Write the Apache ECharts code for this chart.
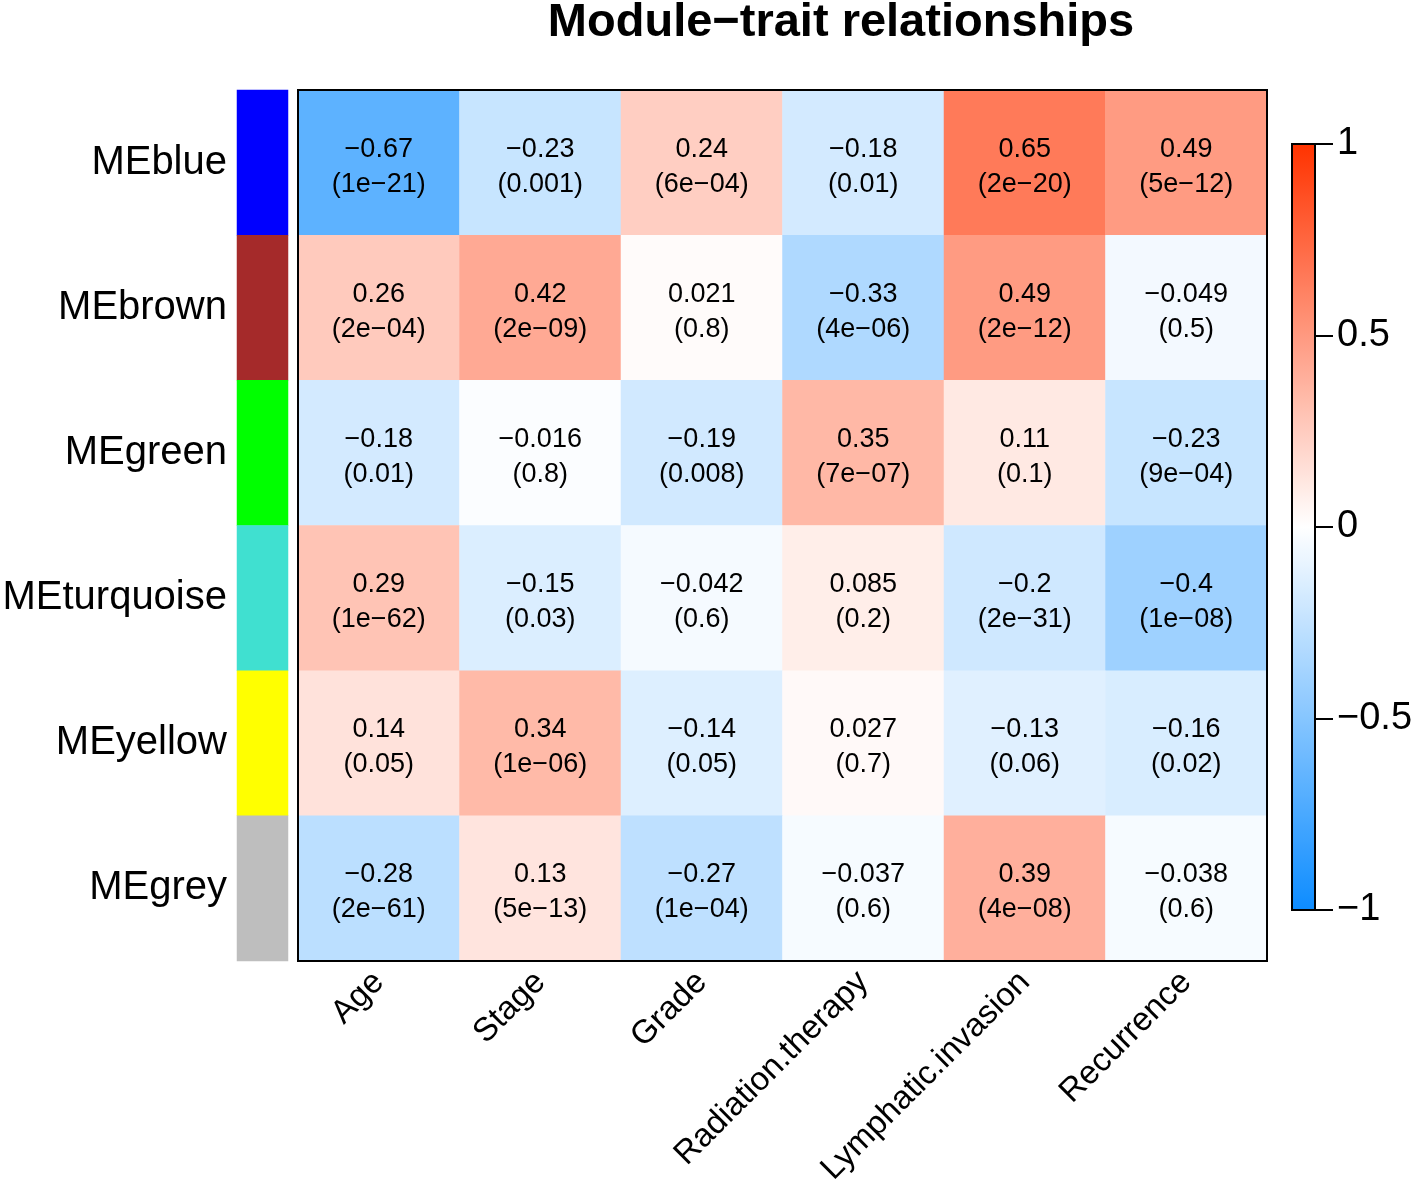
<!DOCTYPE html>
<html>
<head>
<meta charset="utf-8">
<script src="https://cdn.jsdelivr.net/npm/echarts@6/dist/echarts.min.js"></script>
<style>
html,body{margin:0;padding:0;background:#fff;}
#c{width:1418px;height:1186px;}
</style>
</head>
<body>
<div id="c"></div>
<script>
const modules = ['MEblue','MEbrown','MEgreen','MEturquoise','MEyellow','MEgrey'];
const moduleColors = ['#0000FF','#A52A2A','#00FF00','#40E0D0','#FFFF00','#BEBEBE'];
const traits = ['Age','Stage','Grade','Radiation.therapy','Lymphatic.invasion','Recurrence'];
const corBlue      = [-0.67, -0.23, 0.24, -0.18, 0.65, 0.49];
const corBrown     = [0.26, 0.42, 0.021, -0.33, 0.49, -0.049];
const corGreen     = [-0.18, -0.016, -0.19, 0.35, 0.11, -0.23];
const corTurquoise = [0.29, -0.15, -0.042, 0.085, -0.2, -0.4];
const corYellow    = [0.14, 0.34, -0.14, 0.027, -0.13, -0.16];
const corGrey      = [-0.28, 0.13, -0.27, -0.037, 0.39, -0.038];
const pBlue      = ['1e-21','0.001','6e-04','0.01','2e-20','5e-12'];
const pBrown     = ['2e-04','2e-09','0.8','4e-06','2e-12','0.5'];
const pGreen     = ['0.01','0.8','0.008','7e-07','0.1','9e-04'];
const pTurquoise = ['1e-62','0.03','0.6','0.2','2e-31','1e-08'];
const pYellow    = ['0.05','1e-06','0.05','0.7','0.06','0.02'];
const pGrey      = ['2e-61','5e-13','1e-04','0.6','4e-08','0.6'];
const colorbarTicks = [-1, -0.5, 0, 0.5, 1];

const corRows = [corBlue, corBrown, corGreen, corTurquoise, corYellow, corGrey];
const pRows = [pBlue, pBrown, pGreen, pTurquoise, pYellow, pGrey];
const minus = s => String(s).replace(/-/g, '\u2212');

const heatData = [];
corRows.forEach((row, r) => row.forEach((v, c) => heatData.push([c, r, v])));
const stripData = modules.map((m, i) => ({ value: [0, i, i], itemStyle: { color: moduleColors[i] } }));

const FONT = '"Liberation Sans", Arial, Helvetica, sans-serif';
const chart = echarts.init(document.getElementById('c'), null, { renderer: 'canvas' });
chart.setOption({
  backgroundColor: '#fff',
  animation: false,
  title: {
    text: 'Module\u2212trait relationships',
    left: 836, top: -5, textAlign: 'center',
    textStyle: { fontFamily: FONT, fontWeight: 'bold', fontSize: 47, color: '#000' }
  },
  grid: [
    { left: 298, top: 90, width: 969, height: 871, show: true, borderColor: '#000', borderWidth: 2, backgroundColor: 'transparent', z: 10, outerBoundsMode: 'none', containLabel: false },
    { left: 237, top: 90, width: 51, height: 871, show: false, outerBoundsMode: 'none', containLabel: false },
    { left: 1292, top: 144, width: 23, height: 766, show: true, borderColor: '#000', borderWidth: 2, backgroundColor: 'transparent', z: 10, outerBoundsMode: 'none', containLabel: false }
  ],
  xAxis: [
    { type: 'category', gridIndex: 0, data: traits, axisLine: { show: false }, axisTick: { show: false }, splitLine: { show: false },
      axisLabel: { interval: 0, rotate: 45, margin: 16, fontSize: 33, color: '#000', fontFamily: FONT } },
    { type: 'category', gridIndex: 1, data: ['m'], show: false },
    { type: 'category', gridIndex: 2, show: false, data: ['bar'] }
  ],
  yAxis: [
    { type: 'category', gridIndex: 0, data: modules, inverse: true, show: false },
    { type: 'category', gridIndex: 1, data: modules, inverse: true, axisLine: { show: false }, axisTick: { show: false },
      axisLabel: { margin: 10, fontSize: 40, color: '#000', fontFamily: FONT, padding: [8, 0, 0, 0] } },
    { type: 'value', gridIndex: 2, position: 'right', z: 12, min: colorbarTicks[0], max: colorbarTicks[colorbarTicks.length - 1], interval: 0.5,
      axisLine: { show: true, onZero: false, lineStyle: { color: '#000', width: 2 } }, splitLine: { show: false },
      axisTick: { show: true, inside: false, length: 18, lineStyle: { color: '#000', width: 2 } },
      axisLabel: { margin: 22, fontSize: 38, color: '#000', fontFamily: FONT, formatter: v => minus(v) } }
  ],
  visualMap: {
    type: 'continuous', seriesIndex: 0, dimension: 2, min: -1, max: 1,
    calculable: false, orient: 'vertical', left: 1292, top: 144, itemWidth: 23, itemHeight: 766,
    padding: 0, text: null, showLabel: false, hoverLink: false,
    inRange: { color: ['#0D8CFF', '#FFFFFF', '#FF3300'] }
  },
  series: [
    { type: 'heatmap', xAxisIndex: 0, yAxisIndex: 0, data: heatData,
      itemStyle: { borderWidth: 0 },
      label: { show: true, fontSize: 27, lineHeight: 35, color: '#000', fontFamily: FONT, offset: [0, 4],
        formatter: p => minus(p.value[2]) + '\n(' + minus(pRows[p.value[1]][p.value[0]]) + ')' } },
    { type: 'heatmap', xAxisIndex: 1, yAxisIndex: 1, data: stripData, itemStyle: { borderWidth: 0 } }
  ]
});
</script>
</body>
</html>
